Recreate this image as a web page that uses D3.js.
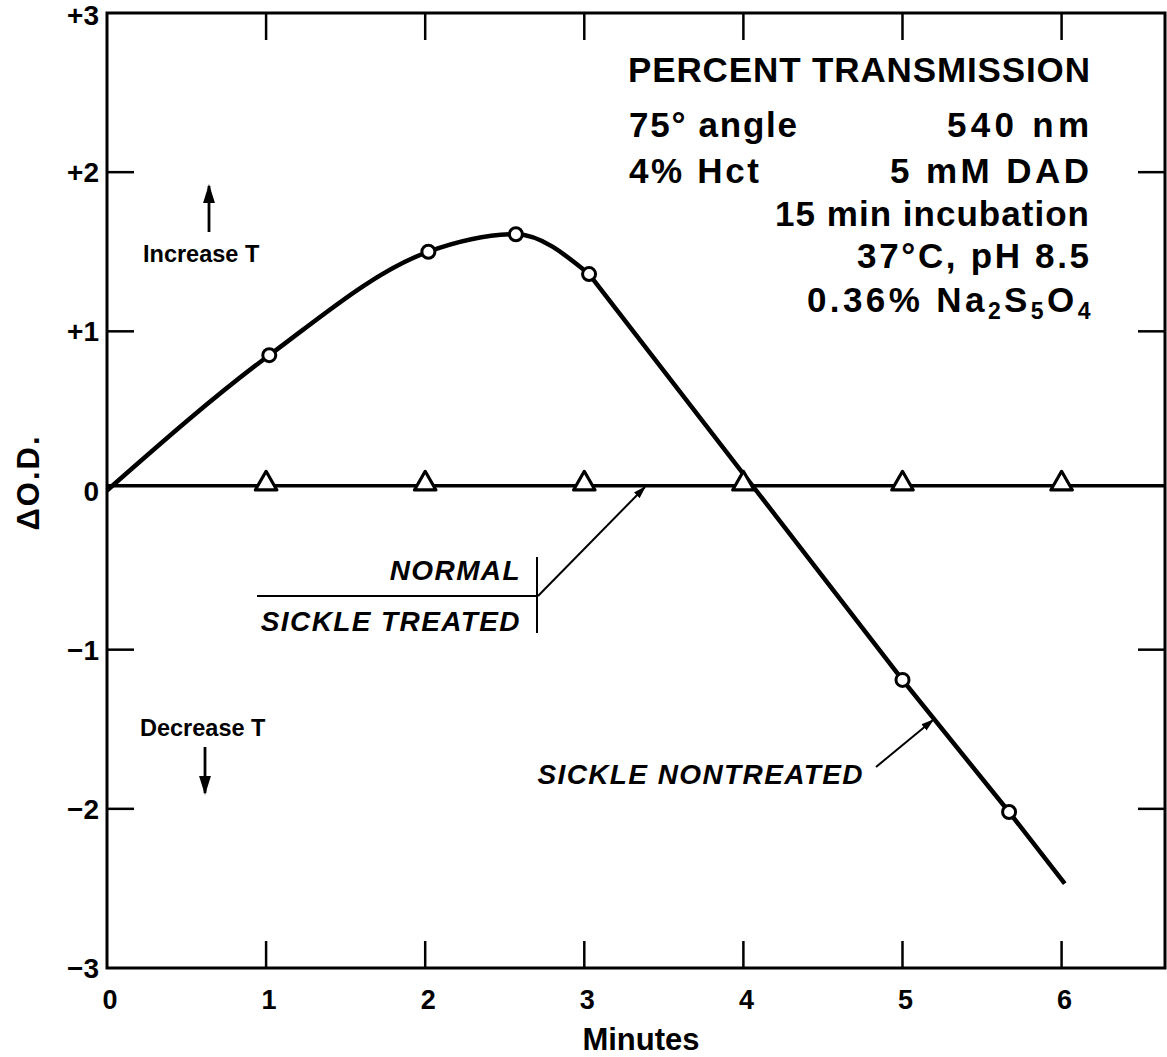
<!DOCTYPE html>
<html>
<head>
<meta charset="utf-8">
<script src="https://cdnjs.cloudflare.com/ajax/libs/d3/7.8.5/d3.min.js"></script>
<style>
  html, body { margin: 0; padding: 0; background: #fff; }
  svg { display: block; }
  text { font-family: "Liberation Sans", Arial, Helvetica, sans-serif; fill: #000; }
</style>
</head>
<body>
<svg id="chart" width="1167" height="1057"></svg>
<script>
// Tick values and labels
const xTicks = [0, 1, 2, 3, 4, 5, 6];
const yTicks = [-3, -2, -1, 0, 1, 2, 3];
const yTickLabels = ["\u22123", "\u22122", "\u22121", "0", "+1", "+2", "+3"];

// Sickle nontreated: smooth rise and fall, then a straight descent
const sickleCurveMinutes = [0, 1.02, 2.02, 2.57, 3.03];
const sickleCurveOD      = [0, 0.85, 1.50, 1.61, 1.36];
const sickleLineMinutes  = [3.03, 5.0, 5.67, 6.02];
const sickleLineOD       = [1.36, -1.19, -2.02, -2.47];
const sickleMarkMinutes  = [1.02, 2.02, 2.57, 3.03, 5.0, 5.67];
const sickleMarkOD       = [0.85, 1.50, 1.61, 1.36, -1.19, -2.02];

// Normal / sickle treated (triangles), flat at zero
const normalMinutes = [1, 2, 3, 4, 5, 6];
const normalOD      = [0.03, 0.03, 0.03, 0.03, 0.03, 0.03];

// Conditions text block
const condTitle = "PERCENT TRANSMISSION";
const condLeft  = ["75\u00b0 angle", "4% Hct"];
const condRight = ["540 nm", "5 mM DAD", "15 min incubation", "37\u00b0C, pH 8.5"];

const svg = d3.select("#chart");

const x = d3.scaleLinear().domain([0, 6.65]).range([107, 1165]);
const y = d3.scaleLinear().domain([-3, 3]).range([968, 13]);

// arrowheads
const defs = svg.append("defs");
function addMarker(id, w, h) {
  defs.append("marker")
      .attr("id", id)
      .attr("viewBox", "0 0 10 10")
      .attr("preserveAspectRatio", "none")
      .attr("refX", 9).attr("refY", 5)
      .attr("markerWidth", w).attr("markerHeight", h)
      .attr("markerUnits", "userSpaceOnUse")
      .attr("orient", "auto")
    .append("path")
      .attr("d", "M0,0 L10,5 L0,10 Z")
      .attr("fill", "#000");
}
addMarker("arrow", 13, 8);
addMarker("arrowBig", 19, 12);

// Frame
const [x0, x1] = x.range();
const [y0, y1] = y.range();
svg.append("rect")
    .attr("x", x0).attr("y", y1)
    .attr("width", x1 - x0).attr("height", y0 - y1)
    .attr("fill", "none").attr("stroke", "#000").attr("stroke-width", 3);

// Inward ticks on all four sides
const tickLen = 27;
const tickG = svg.append("g").attr("stroke", "#000").attr("stroke-width", 2.5);
xTicks.filter(d => d > 0).forEach(d => {
  tickG.append("line").attr("x1", x(d)).attr("x2", x(d)).attr("y1", y0).attr("y2", y0 - tickLen);
  tickG.append("line").attr("x1", x(d)).attr("x2", x(d)).attr("y1", y1).attr("y2", y1 + tickLen);
});
yTicks.filter(d => d > -3 && d < 3 && d !== 0).forEach(d => {
  tickG.append("line").attr("x1", x0).attr("x2", x0 + tickLen).attr("y1", y(d)).attr("y2", y(d));
  tickG.append("line").attr("x1", x1).attr("x2", x1 - tickLen).attr("y1", y(d)).attr("y2", y(d));
});

// Tick labels
svg.append("g").selectAll("text").data(xTicks).join("text")
    .attr("x", d => x(d) + 3).attr("y", 1009)
    .attr("text-anchor", "middle")
    .attr("font-size", 27).attr("font-weight", "bold")
    .text(d => d);

svg.append("g").selectAll("text").data(yTicks).join("text")
    .attr("x", 99).attr("y", d => y(d) + (d === 3 ? 12 : 10))
    .attr("text-anchor", "end")
    .attr("font-size", 28).attr("font-weight", "bold")
    .text((d, i) => yTickLabels[i]);

// Axis titles
svg.append("text")
    .attr("x", 641).attr("y", 1050)
    .attr("text-anchor", "middle")
    .attr("font-size", 31).attr("font-weight", "bold")
    .text("Minutes");

svg.append("text")
    .attr("transform", `translate(39, ${y(0) - 8}) rotate(-90)`)
    .attr("text-anchor", "middle")
    .attr("font-size", 31).attr("font-weight", "bold")
    .attr("letter-spacing", 2)
    .text("\u0394O.D.");

// Normal / sickle treated line across the whole frame
svg.append("line")
    .attr("x1", x0).attr("x2", x1)
    .attr("y1", y(normalOD[0])).attr("y2", y(normalOD[0]))
    .attr("stroke", "#000").attr("stroke-width", 3.5);

// Sickle nontreated curve
const smooth = d3.line()
    .x((d, i) => x(sickleCurveMinutes[i]))
    .y(d => y(d))
    .curve(d3.curveMonotoneX);
const straight = d3.line()
    .x((d, i) => x(sickleLineMinutes[i]))
    .y(d => y(d));
svg.append("path")
    .attr("d", smooth(sickleCurveOD) + straight(sickleLineOD).replace(/^M/, "L"))
    .attr("fill", "none").attr("stroke", "#000").attr("stroke-width", 4.5)
    .attr("stroke-linejoin", "round");

// Circles
svg.append("g").selectAll("circle").data(sickleMarkOD).join("circle")
    .attr("cx", (d, i) => x(sickleMarkMinutes[i]))
    .attr("cy", d => y(d))
    .attr("r", 6.5)
    .attr("fill", "#fff").attr("stroke", "#000").attr("stroke-width", 3);

// Triangles
const tri = d3.symbol().type(d3.symbolTriangle).size(200);
svg.append("g").selectAll("path").data(normalOD).join("path")
    .attr("transform", (d, i) => `translate(${x(normalMinutes[i])},${y(d) - 2})`)
    .attr("d", tri)
    .attr("fill", "#fff").attr("stroke", "#000").attr("stroke-width", 3.2)
    .attr("stroke-linejoin", "round");

// Conditions text (widths fitted to the original lettering)
const condG = svg.append("g").attr("font-size", 35).attr("font-weight", "bold");
condG.append("text").attr("x", 1090).attr("y", 82).attr("text-anchor", "end")
    .attr("textLength", 462).attr("lengthAdjust", "spacing").text(condTitle);
const leftW = [168, 130];
condLeft.forEach((t, i) => {
  condG.append("text").attr("x", 629).attr("y", 137 + i * 46)
      .attr("textLength", leftW[i]).attr("lengthAdjust", "spacing").text(t);
});
const rightW = [142, 199, 314, 232];
const rightY = [137, 183, 226, 268];
condRight.forEach((t, i) => {
  condG.append("text").attr("x", 1089 - rightW[i]).attr("y", rightY[i])
      .attr("textLength", rightW[i]).attr("lengthAdjust", "spacing").text(t);
});
const na = condG.append("text").attr("x", 807).attr("y", 312)
    .attr("letter-spacing", 3.4);
na.append("tspan").text("0.36% Na");
na.append("tspan").attr("font-size", 23).attr("dy", 7).text("2");
na.append("tspan").attr("dy", -7).text("S");
na.append("tspan").attr("font-size", 23).attr("dy", 7).text("5");
na.append("tspan").attr("dy", -7).text("O");
na.append("tspan").attr("font-size", 23).attr("dy", 7).text("4");

// Increase / Decrease T
svg.append("text").attr("x", 143).attr("y", 262)
    .attr("font-size", 23.5).attr("font-weight", "bold").text("Increase T");
svg.append("line").attr("x1", 209).attr("x2", 209).attr("y1", 232).attr("y2", 186)
    .attr("stroke", "#000").attr("stroke-width", 2.8).attr("marker-end", "url(#arrowBig)");
svg.append("text").attr("x", 140).attr("y", 736)
    .attr("font-size", 23.5).attr("font-weight", "bold").text("Decrease T");
svg.append("line").attr("x1", 205).attr("x2", 205).attr("y1", 747).attr("y2", 793)
    .attr("stroke", "#000").attr("stroke-width", 2.8).attr("marker-end", "url(#arrowBig)");

// Legend labels
const lg = svg.append("g").attr("font-size", 28).attr("font-weight", "bold")
    .attr("font-style", "italic").attr("letter-spacing", 1.4);
lg.append("text").attr("x", 521).attr("y", 580).attr("text-anchor", "end").text("NORMAL");
lg.append("text").attr("x", 521).attr("y", 631).attr("text-anchor", "end").text("SICKLE TREATED");
lg.append("text").attr("x", 864).attr("y", 784).attr("text-anchor", "end").text("SICKLE NONTREATED");

svg.append("line").attr("x1", 257).attr("x2", 538).attr("y1", 596).attr("y2", 596)
    .attr("stroke", "#000").attr("stroke-width", 2);
svg.append("line").attr("x1", 537).attr("x2", 537).attr("y1", 557).attr("y2", 633)
    .attr("stroke", "#000").attr("stroke-width", 2);
svg.append("line").attr("x1", 538).attr("x2", 645).attr("y1", 596).attr("y2", 487)
    .attr("stroke", "#000").attr("stroke-width", 2).attr("marker-end", "url(#arrow)");
svg.append("line").attr("x1", 876).attr("x2", 933).attr("y1", 767).attr("y2", 720)
    .attr("stroke", "#000").attr("stroke-width", 2).attr("marker-end", "url(#arrow)");
</script>
</body>
</html>
